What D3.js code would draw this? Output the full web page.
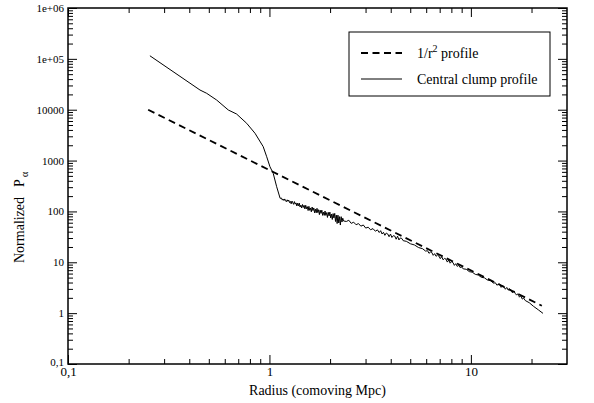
<!DOCTYPE html>
<html>
<head>
<meta charset="utf-8">
<script src="https://cdn.jsdelivr.net/npm/d3@7"></script>
<style>
  body { margin: 0; background: #fff; }
  svg { display: block; }
  svg text { font-family: "Liberation Serif", "Times New Roman", Times, serif; }
</style>
</head>
<body>
<svg id="chart"></svg>
<script>
// 1/r^2 profile (dashed)
const refR = [0.25, 1, 22.5]
const refP = [10000, 650, 1.4]

// central clump profile (solid)
const clumpR = [0.255, 0.452, 0.488, 0.547, 0.625, 0.687, 0.771, 0.848, 0.931, 0.969, 1.006, 1.044, 1.086, 1.13,
  1.148, 1.159, 1.169, 1.180, 1.191, 1.202, 1.213, 1.225, 1.236, 1.247, 1.259, 1.271, 1.282, 1.294, 1.306, 1.318,
  1.330, 1.343, 1.355, 1.368, 1.380, 1.393, 1.406, 1.419, 1.432, 1.445, 1.459, 1.472, 1.486, 1.500, 1.514, 1.528,
  1.542, 1.556, 1.570, 1.585, 1.600, 1.614, 1.629, 1.644, 1.660, 1.675, 1.690, 1.706, 1.722, 1.738, 1.754, 1.770,
  1.786, 1.803, 1.820, 1.837, 1.854, 1.871, 1.888, 1.905, 1.923, 1.941, 1.959, 1.977, 1.995, 2.014, 2.032, 2.051,
  2.070, 2.089, 2.109, 2.128, 2.148, 2.168, 2.188, 2.208, 2.228, 2.249, 2.270, 2.291, 2.312, 2.333,
  2.410, 2.477, 2.547, 2.618, 2.692, 2.767, 2.844, 2.924, 3.006, 3.090, 3.177, 3.266, 3.357, 3.436,
  3.508, 3.565, 3.622, 3.681, 3.741, 3.802, 3.864, 3.926, 3.990, 4.055, 4.121, 4.188, 4.256, 4.325, 4.395, 4.467, 4.539, 4.613,
  4.786, 5.012, 5.248, 5.495, 5.754, 5.957,
  6.095, 6.194, 6.295, 6.397, 6.501, 6.607, 6.714, 6.823, 6.934, 7.047, 7.161, 7.278, 7.396, 7.516, 7.638, 7.762, 7.889, 8.017, 8.147, 8.279, 8.414, 8.551, 8.690, 8.831, 8.974,
  9.162, 9.484, 9.817, 10.16, 10.52, 10.89, 11.27, 11.67, 12.08, 12.50, 12.94,
  13.24, 13.46, 13.68, 13.90, 14.13, 14.36, 14.59, 14.83, 15.07, 15.31, 15.56, 15.81, 16.07, 16.33, 16.60,
  16.87, 17.14, 17.42, 17.70, 17.99, 18.28, 18.62, 19.50, 20.42, 21.63, 22.80]
const clumpP = [115000, 24400, 21000, 15500, 9870, 8230, 5400, 3440, 1880, 1190, 757, 561, 306, 181,
  183, 167, 175, 164, 176, 162, 155, 169, 158, 167, 149, 157, 141, 160, 148, 138,
  156, 139, 147, 128, 145, 129, 146, 122, 133, 117, 137, 120, 132, 112, 132, 113,
  124, 104, 126, 105, 117, 98.2, 122, 104, 117, 93.8, 111, 93.8, 115, 94.8, 108, 86.5,
  106, 91.6, 106, 83.6, 97.0, 83.6, 102, 83.6, 94.8, 76.2, 95.9, 81.7, 97.0, 74.5, 88.5, 69.5,
  90.6, 74.5, 91.6, 63.4, 84.5, 57.8, 84.5, 59.2, 78.9, 54.0, 78.9, 61.9, 73.6, 64.9,
  63.5, 67.1, 58.2, 61.5, 54.7, 57.7, 51.3, 54.1, 47.0, 49.0, 43.6, 45.9, 40.8, 43.4,
  38.5, 41.8, 36.0, 38.9, 33.9, 37.6, 36.1, 31.8, 35.9, 30.7, 33.4, 32.8, 28.4, 32.6, 27.5, 30.1, 29.4, 26.6,
  25.8, 23.1, 21.9, 19.5, 18.5, 16.6,
  16.9, 15.0, 15.9, 15.6, 13.7, 14.8, 13.1, 13.9, 13.3, 11.8, 12.9, 11.2, 11.9, 11.6, 10.1, 11.1, 9.6, 10.3, 9.9, 8.7, 9.4, 8.3, 8.8, 7.9, 8.1,
  7.43, 7.29, 6.56, 6.38, 5.79, 5.61, 5.07, 4.95, 4.49, 4.36, 3.90,
  3.95, 3.55, 3.68, 3.74, 3.21, 3.45, 3.30, 2.95, 3.20, 2.84, 2.99, 2.86, 2.52, 2.74, 2.45,
  2.26, 2.42, 2.06, 2.20, 1.89, 1.97, 1.77, 1.60, 1.37, 1.16, 0.99]

const xTicks = [0.1, 1, 10]
const xTickLabels = ["0,1", "1", "10"]
const yTicks = [0.1, 1, 10, 100, 1000, 10000, 1e5, 1e6]
const yTickLabels = ["0,1", "1", "10", "100", "1000", "10000", "1e+05", "1e+06"]

const FONT = "'Liberation Serif', 'Times New Roman', Times, serif"
const W = 594, H = 403
const margin = { top: 8, right: 27, bottom: 39, left: 68 }
const width = W - margin.left - margin.right
const height = H - margin.top - margin.bottom

// minor ticks 2..9 inside each decade
const minors = (lo, hi) => {
  const out = []
  for (let d = lo; d < hi; d *= 10)
    for (let k = 2; k <= 9; k++) if (d * k < hi) out.push(+(d * k).toPrecision(3))
  return out
}
const xMinor = minors(0.1, 30)
const yMinor = minors(0.1, 1e6)

const svg = d3.select("#chart").attr("width", W).attr("height", H).attr("font-family", FONT)
svg.append("rect").attr("width", W).attr("height", H).attr("fill", "#fff")

const g = svg.append("g").attr("transform", `translate(${margin.left},${margin.top})`)

const x = d3.scaleLog().domain([0.1, 30]).range([0, width])
const y = d3.scaleLog().domain([0.1, 1e6]).range([height, 0])

function ticks(axis, values, size, fmt) {
  return axis.tickValues(values).tickSizeInner(size).tickSizeOuter(0).tickFormat(fmt || "")
}

const axes = [
  { gen: d3.axisBottom, at: `translate(0,${height})`, s: x, major: xTicks, minor: xMinor, labels: xTickLabels, pad: 3, fs: 13 },
  { gen: d3.axisTop, at: "translate(0,0)", s: x, major: xTicks, minor: xMinor },
  { gen: d3.axisLeft, at: "translate(0,0)", s: y, major: yTicks, minor: yMinor, labels: yTickLabels, pad: 4, fs: 11 },
  { gen: d3.axisRight, at: `translate(${width},0)`, s: y, major: yTicks, minor: yMinor }
]

axes.forEach(a => {
  const ag = g.append("g").attr("transform", a.at)
  ag.append("g").call(ticks(a.gen(a.s), a.minor, -5))
  const fmt = a.labels ? (d, i) => a.labels[i] : ""
  const maj = ag.append("g").call(ticks(a.gen(a.s), a.major, -9, fmt).tickPadding(a.pad || 3))
  ag.selectAll(".domain").remove()
  ag.selectAll("g").attr("font-family", FONT)
  ag.selectAll("line").attr("stroke", "#000").attr("stroke-width", 1)
  maj.attr("font-size", a.fs || 11).selectAll("text").attr("fill", "#000")
})
// y "0,1" sits a touch above its tick
g.selectAll("text").filter(function () { return this.textContent === "0,1" && +this.getAttribute("x") < 0 })
  .attr("dy", "0.1em")

g.append("rect")
  .attr("width", width).attr("height", height)
  .attr("fill", "none").attr("stroke", "#000").attr("stroke-width", 1.5)

const line = d3.line().x(d => x(d[0])).y(d => y(d[1]))

g.append("path")
  .datum(refR.map((r, i) => [r, refP[i]]))
  .attr("d", line)
  .attr("fill", "none").attr("stroke", "#000")
  .attr("stroke-width", 1.8).attr("stroke-dasharray", "7,4.5")

g.append("path")
  .datum(clumpR.map((r, i) => [r, clumpP[i]]))
  .attr("d", line)
  .attr("fill", "none").attr("stroke", "#000")
  .attr("stroke-width", 1).attr("stroke-linejoin", "round")

// axis titles
svg.append("text")
  .attr("x", margin.left + width / 2).attr("y", 395)
  .attr("text-anchor", "middle").attr("font-size", 14)
  .text("Radius (comoving Mpc)")

const yt = svg.append("text")
  .attr("transform", "translate(24,263) rotate(-90)")
  .attr("font-size", 14)
yt.append("tspan").text("Normalized")
yt.append("tspan").attr("dx", 10).text("P")
yt.append("tspan").attr("dx", 2).attr("dy", 4).attr("font-size", 10).text("α")

// legend
const legend = svg.append("g").attr("transform", "translate(349,32)")
legend.append("rect").attr("width", 201).attr("height", 64)
  .attr("fill", "#fff").attr("stroke", "#000").attr("stroke-width", 1)
legend.append("line").attr("x1", 12).attr("x2", 53).attr("y1", 21).attr("y2", 21)
  .attr("stroke", "#000").attr("stroke-width", 1.8).attr("stroke-dasharray", "7,4.5")
legend.append("line").attr("x1", 12).attr("x2", 53).attr("y1", 47).attr("y2", 47)
  .attr("stroke", "#000").attr("stroke-width", 1)
const l1 = legend.append("text").attr("x", 68).attr("y", 26).attr("font-size", 14)
l1.append("tspan").text("1/r")
l1.append("tspan").attr("dy", -6).attr("font-size", 10).text("2")
l1.append("tspan").attr("dy", 6).text(" profile")
legend.append("text").attr("x", 68).attr("y", 52).attr("font-size", 14).text("Central clump profile")
</script>
</body>
</html>
